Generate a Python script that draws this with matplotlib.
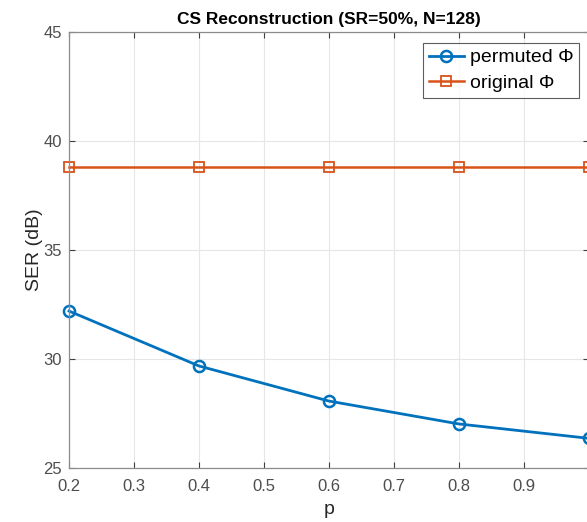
import matplotlib.pyplot as plt

plt.rcParams["font.family"] = ["Liberation Sans", "DejaVu Sans"]

p = [0.2, 0.4, 0.6, 0.8, 1.0]
ser_permuted = [32.2, 29.68, 28.07, 27.02, 26.36]
ser_original = [38.8, 38.8, 38.8, 38.8, 38.8]

BLUE = "#0072BD"
ORANGE = "#D95319"
AXC = "#404040"

fig = plt.figure(figsize=(5.87, 5.22), dpi=100)
ax = fig.add_axes([69 / 587, 54 / 522, 520 / 587, 436 / 522])

ax.plot(
    p, ser_permuted,
    color=BLUE, linewidth=2, marker="o", markersize=8,
    markerfacecolor="none", markeredgewidth=1.8,
    label="permuted Φ", clip_on=False,
)
ax.plot(
    p, ser_original,
    color=ORANGE, linewidth=1.8, marker="s", markersize=7,
    markerfacecolor="none", markeredgewidth=1.3,
    label="original Φ", clip_on=False,
)

ax.set_xlim(0.2, 1.0)
ax.set_ylim(25, 45)
ax.set_xticks([0.2, 0.3, 0.4, 0.5, 0.6, 0.7, 0.8, 0.9])
ax.set_yticks([25, 30, 35, 40, 45])
ax.set_xticklabels(["0.2", "0.3", "0.4", "0.5", "0.6", "0.7", "0.8", "0.9"])

ax.grid(True, color="#e6e6e6", linewidth=0.8)
ax.set_axisbelow(True)
ax.tick_params(
    direction="in", top=True, right=True, length=4,
    colors=AXC, labelsize=12, labelcolor="#4d4d4d",
)
ax.tick_params(axis="x", pad=8)
ax.tick_params(axis="y", pad=5)
for s in ax.spines.values():
    s.set_color("#8c8c8c")
    s.set_linewidth(0.9)

ax.set_title("CS Reconstruction (SR=50%, N=128)", fontsize=12.5, fontweight="bold", pad=6)
ax.set_xlabel("p", fontsize=14, color="#262626", labelpad=5)
ax.set_ylabel("SER (dB)", fontsize=14, color="#262626", labelpad=0)

leg = fig.legend(
    loc="upper right", bbox_to_anchor=(579 / 587, 1 - 43 / 522),
    fontsize=14, frameon=True, fancybox=False, edgecolor="#333333",
    handlelength=1.8, handletextpad=0.3, borderpad=0.3, labelspacing=0.4,
    borderaxespad=0,
)
leg.get_frame().set_linewidth(0.8)

fig.savefig("out.png", dpi=100)
